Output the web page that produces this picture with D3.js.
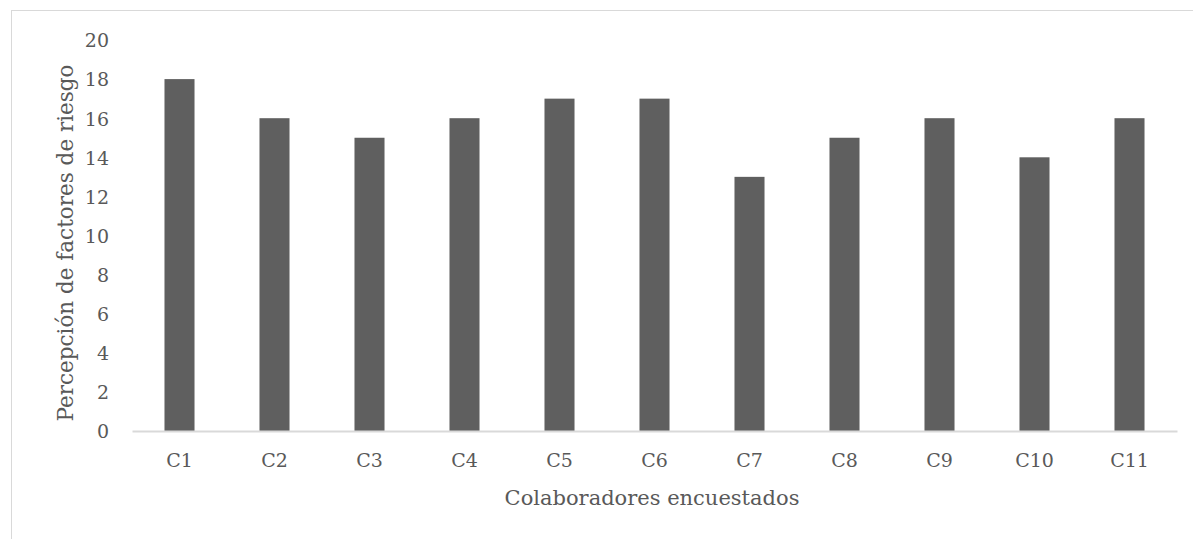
<!DOCTYPE html>
<html>
<head>
<meta charset="utf-8">
<script src="https://cdn.jsdelivr.net/npm/d3@7"></script>
<style>
  body { margin: 0; background: #fff; }
  svg text { font-family: "DejaVu Serif", serif; fill: #595959; }
</style>
</head>
<body>
<svg id="chart"></svg>
<script>
// chart values
const categories = ["C1", "C2", "C3", "C4", "C5", "C6", "C7", "C8", "C9", "C10", "C11"];
const values = [18, 16, 15, 16, 17, 17, 13, 15, 16, 14, 16];
const yTicks = [0, 2, 4, 6, 8, 10, 12, 14, 16, 18, 20];
const xTitle = "Colaboradores encuestados";
const yTitle = "Percepción de factores de riesgo";

const width = 1193;
const height = 539;
const margin = { top: 40, right: 16, bottom: 108, left: 132 };
const plotW = width - margin.left - margin.right;
const plotH = height - margin.top - margin.bottom;

const svg = d3.select("#chart")
  .attr("width", width)
  .attr("height", height);

// outer frame of the chart area
svg.append("rect")
  .attr("x", 11.5)
  .attr("y", 10.5)
  .attr("width", width)
  .attr("height", height)
  .attr("fill", "none")
  .attr("stroke", "#d9d9d9")
  .attr("stroke-width", 1);

const g = svg.append("g")
  .attr("transform", "translate(" + margin.left + "," + margin.top + ")");

const x = d3.scaleBand()
  .domain(categories)
  .range([0, plotW])
  .paddingInner(0.684)
  .paddingOuter(0.342);

const y = d3.scaleLinear()
  .domain([0, 20])
  .range([plotH, 0]);

// y axis labels (no line, no ticks)
const yAxis = g.append("g")
  .call(d3.axisLeft(y).tickValues(yTicks).tickSize(0).tickPadding(23));
yAxis.select(".domain").remove();
yAxis.selectAll("text")
  .style("font-size", "19px")
  .attr("dy", "0.36em");

// bars
g.append("g")
  .selectAll("rect")
  .data(values)
  .enter()
  .append("rect")
  .attr("x", (d, i) => x(categories[i]))
  .attr("y", d => y(d))
  .attr("width", x.bandwidth())
  .attr("height", d => plotH - y(d))
  .attr("fill", "#5f5f5f");

// x axis
const xAxis = g.append("g")
  .attr("transform", "translate(0," + plotH + ")")
  .call(d3.axisBottom(x).tickSize(0).tickPadding(23));
xAxis.select(".domain")
  .attr("stroke", "#d9d9d9")
  .attr("stroke-width", 2);
xAxis.selectAll("text")
  .style("font-size", "19px");

// axis titles
svg.append("text")
  .attr("x", 652)
  .attr("y", 505)
  .attr("text-anchor", "middle")
  .style("font-size", "21px")
  .text(xTitle);

svg.append("text")
  .attr("transform", "translate(73," + 243 + ") rotate(-90)")
  .attr("text-anchor", "middle")
  .style("font-size", "21.5px")
  .text(yTitle);
</script>
</body>
</html>
